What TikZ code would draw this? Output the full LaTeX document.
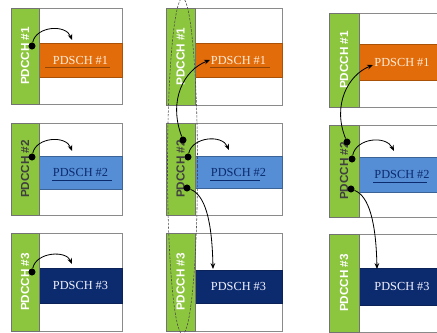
\documentclass[tikz,border=0pt]{standalone}
\usepackage{fontspec}
\setmainfont{Liberation Serif}
\setsansfont{Liberation Sans}
\usepackage{tikz}
\usetikzlibrary{arrows.meta,shapes}
\definecolor{pdcchgreen}{HTML}{8CC63F}
\definecolor{pdschorange}{HTML}{E36C0A}
\definecolor{pdschblue}{HTML}{558ED5}
\definecolor{pdschnavy}{HTML}{0C2A6E}
\definecolor{framegray}{HTML}{8A8A8A}
\tikzstyle{frame_box} = [rectangle, draw=framegray, line width=0.8pt, fill=white, inner sep=0pt]
\tikzstyle{pdcch_bar} = [rectangle, draw=black!55, line width=0.8pt, fill=pdcchgreen, inner sep=0pt, rotate=90, font=\sffamily\bfseries\fontsize{10}{12}\selectfont]
\tikzstyle{pdsch_band} = [rectangle, line width=0.8pt, inner sep=0pt, font=\fontsize{10.5}{12}\selectfont]
\tikzstyle{band_orange} = [pdsch_band, fill=pdschorange, draw=pdschorange!75!black, text=orange!15!white]
\tikzstyle{band_blue} = [pdsch_band, fill=pdschblue, draw=pdschblue!70!black, text=pdschnavy]
\tikzstyle{band_navy} = [pdsch_band, fill=pdschnavy, draw=pdschnavy!80!black, text=blue!5!white]
\tikzstyle{dot_point} = [circle, fill=black, inner sep=0pt, minimum size=6pt]
\tikzstyle{edge_arrow} = [line width=0.7pt, -{Stealth[length=5pt,width=4pt]}]
\tikzstyle{under_line} = [line width=0.5pt]

\begin{document}
\begin{tikzpicture}[x=0.03cm, y=-0.03cm]
\clip (0,0) rectangle (437,333);
\fill[white] (0,0) rectangle (437,333);

% column 1
\node (F11) at (66.5,56) [frame_box, minimum width=3.33cm, minimum height=2.88cm] {};
\node (F12) at (66.5,169) [frame_box, minimum width=3.33cm, minimum height=2.76cm] {};
\node (F13) at (66.5,282) [frame_box, minimum width=3.33cm, minimum height=2.94cm] {};
\node (S11) at (80.5,60) [band_orange, minimum width=2.49cm, minimum height=1.02cm] {PDSCH \#1};
\node (S12) at (80.5,172.5) [band_blue, minimum width=2.49cm, minimum height=0.99cm] {PDSCH \#2};
\node (S13) at (80.5,285.5) [band_navy, minimum width=2.49cm, minimum height=1.05cm] {PDSCH \#3};
\node (G11) at (25,56) [pdcch_bar, minimum width=2.88cm, minimum height=0.84cm, text=white] {PDCCH \#1};
\node (G12) at (25,169) [pdcch_bar, minimum width=2.76cm, minimum height=0.84cm, text=black!75] {PDCCH \#2};
\node (G13) at (25,282) [pdcch_bar, minimum width=2.94cm, minimum height=0.84cm, text=white] {PDCCH \#3};

% column 2
\node (F21) at (224,56.5) [frame_box, minimum width=3.48cm, minimum height=2.91cm] {};
\node (F22) at (224,169) [frame_box, minimum width=3.48cm, minimum height=2.76cm] {};
\node (F23) at (224,282) [frame_box, minimum width=3.48cm, minimum height=2.94cm] {};
\node (S21) at (238.5,60) [band_orange, minimum width=2.61cm, minimum height=1.02cm] {PDSCH \#1};
\node (S22) at (238.5,172) [band_blue, minimum width=2.61cm, minimum height=0.96cm] {PDSCH \#2};
\node (S23) at (238.5,286.5) [band_navy, minimum width=2.61cm, minimum height=0.99cm] {PDSCH \#3};
\node (G21) at (180.5,56.5) [pdcch_bar, minimum width=2.91cm, minimum height=0.87cm, text=white] {PDCCH \#1};
\node (G22) at (180.5,169) [pdcch_bar, minimum width=2.76cm, minimum height=0.87cm, text=black!75] {PDCCH \#2};
\node (G23) at (180.5,282) [pdcch_bar, minimum width=2.94cm, minimum height=0.87cm, text=white] {PDCCH \#3};

% column 3
\node (F31) at (387,60) [frame_box, minimum width=3.48cm, minimum height=2.82cm] {};
\node (F32) at (387,171) [frame_box, minimum width=3.48cm, minimum height=2.76cm] {};
\node (F33) at (387,283) [frame_box, minimum width=3.48cm, minimum height=2.94cm] {};
\node (S31) at (402,62) [band_orange, minimum width=2.58cm, minimum height=1.08cm] {PDSCH \#1};
\node (S32) at (402,174.5) [band_blue, minimum width=2.58cm, minimum height=1.05cm] {PDSCH \#2};
\node (S33) at (402,286.5) [band_navy, minimum width=2.58cm, minimum height=1.11cm] {PDSCH \#3};
\node (G31) at (344,60) [pdcch_bar, minimum width=2.82cm, minimum height=0.9cm, text=white] {PDCCH \#1};
\node (G32) at (344,171) [pdcch_bar, minimum width=2.76cm, minimum height=0.9cm, text=black!75] {PDCCH \#2};
\node (G33) at (344,283) [pdcch_bar, minimum width=2.94cm, minimum height=0.9cm, text=white] {PDCCH \#3};

% faint underlines in the bands
\draw[under_line, draw=pdschorange!65!black] (45,67) -- (110,67);
\draw[under_line, draw=pdschorange!65!black] (210,67) -- (270,67);
\draw[under_line, draw=pdschnavy] (52,180) -- (112,180);
\draw[under_line, draw=pdschnavy] (210,180) -- (260,180);
\draw[under_line, draw=pdschnavy] (373,182) -- (427,182);

% search space
\draw[dashed, dash pattern=on 2pt off 1.2pt, line width=0.5pt, draw=black!70] (182.5,166) ellipse [x radius=15, y radius=168];

% dots and targets
\node (D11) at (32,46) [dot_point] {};
\node (D12) at (32,157) [dot_point] {};
\node (D13) at (32,272) [dot_point] {};
\node (D21) at (183,140) [dot_point] {};
\node (D22) at (188,157) [dot_point] {};
\node (D23) at (187,188) [dot_point] {};
\node (D31) at (347,142) [dot_point] {};
\node (D32) at (352,159) [dot_point] {};
\node (D33) at (351,189) [dot_point] {};
\coordinate (T11) at (72,40);
\coordinate (T12) at (72,151);
\coordinate (T13) at (72,264);
\coordinate (T21) at (210,60);
\coordinate (T22) at (229,150);
\coordinate (T23) at (213,269);
\coordinate (T31) at (373,65);
\coordinate (T32) at (394,151);
\coordinate (T33) at (377,269);

\draw[edge_arrow] (D11) .. controls (36,26) and (66,24) .. (T11);
\draw[edge_arrow] (D12) .. controls (36,137) and (66,135) .. (T12);
\draw[edge_arrow] (D13) .. controls (36,252) and (66,250) .. (T13);
\draw[edge_arrow] (D21) .. controls (168,100) and (184,70) .. (T21);
\draw[edge_arrow] (D22) .. controls (192,137) and (222,134) .. (T22);
\draw[edge_arrow] (D23) .. controls (205,195) and (212,220) .. (T23);
\draw[edge_arrow] (D31) .. controls (332,105) and (348,75) .. (T31);
\draw[edge_arrow] (D32) .. controls (356,138) and (386,135) .. (T32);
\draw[edge_arrow] (D33) .. controls (369,196) and (376,222) .. (T33);
\end{tikzpicture}
\end{document}
